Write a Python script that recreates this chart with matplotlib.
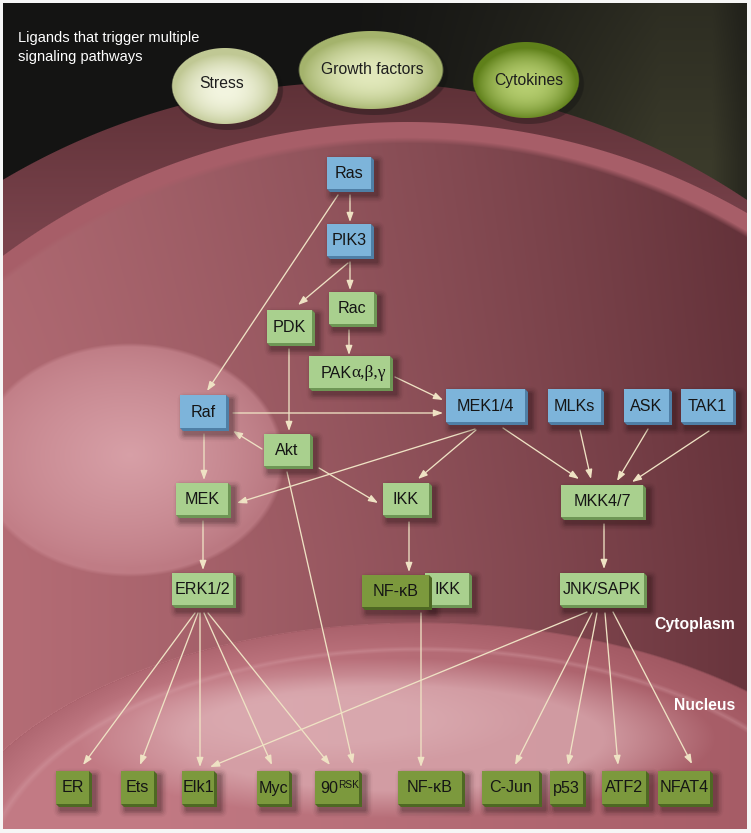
import numpy as np
import matplotlib
matplotlib.use("Agg")
import matplotlib.pyplot as plt
from matplotlib.patches import Polygon, FancyBboxPatch

# ------------------------------------------------------------------ data
TITLE_LINES = ["Ligands that trigger multiple", "signaling pathways"]
LIGANDS = ["Stress", "Growth factors", "Cytokines"]
COMPARTMENTS = ["Cytoplasm", "Nucleus"]

NODE_IDS = ["Ras", "PIK3", "Rac", "PDK", "PAK", "Raf", "MEK14", "MLKs", "ASK",
            "TAK1", "Akt", "MEK", "IKK", "MKK47", "ERK", "IKK2", "NFkB", "JNK",
            "ER", "Ets", "Elk1", "Myc", "RSK", "NFkBn", "CJun", "p53", "ATF2", "NFAT4"]
NODE_LABELS = ["Ras", "PIK3", "Rac", "PDK", "PAKα,β,γ", "Raf", "MEK1/4", "MLKs", "ASK",
               "TAK1", "Akt", "MEK", "IKK", "MKK4/7", "ERK1/2", "IKK", "NF-κB", "JNK/SAPK",
               "ER", "Ets", "Elk1", "Myc", "90RSK", "NF-κB", "C-Jun", "p53", "ATF2", "NFAT4"]
NODE_KIND = ["blue", "blue", "green", "green", "green", "blue", "blue", "blue", "blue",
             "blue", "green", "green", "green", "green", "green", "green", "dark", "green",
             "dark", "dark", "dark", "dark", "dark", "dark", "dark", "dark", "dark", "dark"]

EDGE_SRC = ["Ras", "Ras", "PIK3", "PIK3", "Rac", "PAK", "Raf", "PDK", "Akt", "Akt", "Akt",
            "MEK14", "MEK14", "MEK14", "MLKs", "ASK", "TAK1", "MKK47", "Raf", "MEK", "IKK",
            "NFkB", "ERK", "ERK", "ERK", "ERK", "ERK", "JNK", "JNK", "JNK", "JNK", "JNK"]
EDGE_DST = ["PIK3", "Raf", "Rac", "PDK", "PAK", "MEK14", "MEK14", "Akt", "Raf", "IKK", "RSK",
            "MEK", "IKK", "MKK47", "MKK47", "MKK47", "MKK47", "JNK", "MEK", "ERK", "NFkB",
            "NFkBn", "ER", "Ets", "Elk1", "Myc", "RSK", "Elk1", "CJun", "p53", "ATF2", "NFAT4"]

# ------------------------------------------------------------------ layout (pixels)
W, H = 751, 833
BOX = {
    "Ras": (327, 157, 374, 192), "PIK3": (327, 224, 374, 259), "Rac": (329, 292, 377, 327),
    "PDK": (267, 310, 315, 346), "PAK": (309, 356, 393, 391), "Raf": (180, 395, 229, 431),
    "MEK14": (446, 389, 528, 425), "MLKs": (548, 389, 604, 425), "ASK": (624, 389, 672, 425),
    "TAK1": (681, 389, 736, 425), "Akt": (264, 434, 313, 469), "MEK": (176, 483, 231, 518),
    "IKK": (383, 483, 432, 518), "MKK47": (561, 485, 646, 520), "ERK": (172, 573, 236, 608),
    "IKK2": (425, 573, 472, 608), "NFkB": (362, 575, 432, 610), "JNK": (560, 573, 647, 608),
    "ER": (56, 771, 92, 807), "Ets": (121, 771, 157, 807), "Elk1": (182, 771, 217, 807),
    "Myc": (257, 771, 292, 807), "RSK": (315, 771, 362, 807), "NFkBn": (398, 771, 465, 807),
    "CJun": (482, 771, 542, 807), "p53": (550, 771, 586, 807), "ATF2": (602, 771, 649, 807),
    "NFAT4": (658, 771, 713, 807),
}
ARROW_PTS = {
    ("Ras", "PIK3"): ((350, 195), (350, 222)), ("Ras", "Raf"): ((338, 195), (207, 391)),
    ("PIK3", "Rac"): ((350, 262), (350, 290)), ("PIK3", "PDK"): ((348, 263), (298, 305)),
    ("Rac", "PAK"): ((349, 330), (349, 355)), ("PAK", "MEK14"): ((395, 377), (443, 400)),
    ("Raf", "MEK14"): ((233, 413), (443, 413)), ("PDK", "Akt"): ((289, 349), (289, 431)),
    ("Akt", "Raf"): ((262, 449), (233, 431)), ("Akt", "IKK"): ((319, 468), (378, 503)),
    ("Akt", "RSK"): ((287, 472), (353, 764)), ("MEK14", "MEK"): ((475, 429), (237, 503)),
    ("MEK14", "IKK"): ((476, 430), (418, 479)), ("MEK14", "MKK47"): ((503, 428), (579, 479)),
    ("MLKs", "MKK47"): ((580, 430), (591, 479)), ("ASK", "MKK47"): ((648, 429), (617, 481)),
    ("TAK1", "MKK47"): ((709, 431), (632, 482)), ("MKK47", "JNK"): ((604, 524), (604, 569)),
    ("Raf", "MEK"): ((204, 434), (204, 480)), ("MEK", "ERK"): ((203, 521), (203, 570)),
    ("IKK", "NFkB"): ((409, 522), (409, 572)), ("NFkB", "NFkBn"): ((421, 613), (421, 767)),
    ("ERK", "ER"): ((195, 613), (83, 765)), ("ERK", "Ets"): ((198, 613), (140, 765)),
    ("ERK", "Elk1"): ((200, 613), (200, 767)), ("ERK", "Myc"): ((204, 613), (272, 765)),
    ("ERK", "RSK"): ((208, 613), (330, 765)), ("JNK", "Elk1"): ((587, 612), (210, 767)),
    ("JNK", "CJun"): ((592, 613), (515, 765)), ("JNK", "p53"): ((597, 613), (568, 765)),
    ("JNK", "ATF2"): ((605, 613), (618, 765)), ("JNK", "NFAT4"): ((613, 612), (692, 764)),
}
LIGAND_ELL = [(225, 86, 53, 38), (371, 70, 72, 39), (526, 80, 53, 38)]
LIGAND_COL = [("#f3f5e0", "#c0c894"), ("#e2e9bc", "#a4b36c"), ("#b6ce70", "#5f801a")]
FACE = {"blue": ("#7db4da", "#4f7fa6"), "green": ("#a9d08e", "#6e9655"),
        "dark": ("#7c993d", "#4e6823")}

# ------------------------------------------------------------------ background raster
yy, xx = np.mgrid[0:H, 0:W].astype(float)
xx += 0.5
yy += 0.5


def hexc(h):
    return np.array([int(h[i:i + 2], 16) / 255 for i in (1, 3, 5)])


def lerp(c1, c2, t):
    t = np.asarray(t)[..., None]
    return c1 * (1 - t) + c2 * t


def put(img, col, alpha):
    a = np.asarray(alpha)[..., None]
    return img * (1 - a) + col * a


def circ(cx, cy, R, soft=1.0):
    return np.clip((R - np.hypot(xx - cx, yy - cy)) / soft + 0.5, 0, 1)


def ellrho(cx, cy, a, b):
    return np.sqrt(((xx - cx) / a) ** 2 + ((yy - cy) / b) ** 2)


def ell(cx, cy, a, b, soft=1.0):
    d = (ellrho(cx, cy, a, b) - 1) * min(a, b)
    return np.clip(0.5 - d / soft, 0, 1)


# dark outside
s = np.clip((xx - 330) / 330, 0, 1) ** 1.4 * (1 - 0.45 * np.clip((xx - 712) / 30, 0, 1))
s = s * (0.65 + 0.35 * np.clip(yy / 160, 0, 1))
img = lerp(hexc("#141413"), hexc("#3a3a2a"), s)

# cell outer band
outer = lerp(hexc("#5e3137"), hexc("#7a434c"), np.clip((yy - 80) / 160, 0, 1))
img = put(img, outer, circ(359, 779, 697))
# light membrane band
img = put(img, hexc("#a75e68"), circ(407.5, 800.4, 678.4))
# cytoplasm
sx = np.clip(xx / 740, 0, 1) ** 1.25
cyto = lerp(hexc("#b46c75"), hexc("#69353d"), sx)
cyto = cyto * (0.94 + 0.06 * np.clip((yy - 140) / 420, 0, 1))[..., None]
img = put(img, cyto, circ(407.5, 800.4, 660, soft=6))
# left glow (distinct ellipse + inner radial light)
inside = circ(407.5, 800.4, 660)
img = put(img, hexc("#cf8e97"), 0.55 * ell(130, 460, 152, 115, soft=4) * inside)
rg = ellrho(130, 455, 150, 112)
img = put(img, hexc("#dca6ad"), 0.85 * np.clip(1 - rg, 0, 1) ** 0.8 * inside)

# nucleus
nrho = ellrho(420, 885, 485, 262)
ncol = lerp(hexc("#c27a84"), hexc("#a65c66"), np.clip((xx - 150) / 600, 0, 1))
img = put(img, ncol, ell(420, 885, 485, 262, soft=2))
rim = np.clip((nrho - 0.9) / 0.1, 0, 1) * (nrho <= 1)
img = put(img, hexc("#98505a"), 0.45 * rim)
img = put(img, hexc("#d7a1a8"), 0.35 * np.clip(1 - np.abs(nrho - 0.9) / 0.012, 0, 1))
hrho = ellrho(395, 738, 320, 80)
img = put(img, hexc("#dcacb2"), 0.75 * np.clip((1 - hrho) / 0.35, 0, 1))
img = put(img, hexc("#e6c0c4"), 0.3 * np.clip((1 - ellrho(330, 720, 200, 45)) / 0.5, 0, 1))

# ligand spheres
for (cx, cy, a, b), (c_in, c_out) in zip(LIGAND_ELL, LIGAND_COL):
    r = ellrho(cx, cy + 4, a * 0.95, b * 0.95)
    col = lerp(hexc(c_in), hexc(c_out), np.clip(r, 0, 1) ** 2.2)
    img = put(img, hexc("#101010"), 0.35 * ell(cx + 3, cy + 4, a + 2, b + 2) * (1 - ell(cx, cy, a, b)))
    img = put(img, col, ell(cx, cy, a, b))

# white frame
frame = (xx < 3) | (xx > 747) | (yy < 3) | (yy > 829)
img[frame] = hexc("#f6f6f6")

# ------------------------------------------------------------------ figure
fig = plt.figure(figsize=(W / 100, H / 100), dpi=100)
ax = fig.add_axes([0, 0, 1, 1])
ax.set_xlim(0, W)
ax.set_ylim(H, 0)
ax.axis("off")
ax.imshow(np.clip(img, 0, 1), extent=(0, W, H, 0), interpolation="bilinear", zorder=0)

SANS = ["Liberation Sans", "DejaVu Sans"]
SERIF = ["Liberation Serif", "DejaVu Serif"]
TXT = "#151515"
FS = 11.6

for i, line in enumerate(TITLE_LINES):
    ax.text(18, 38 + 19 * i, line, color="white", fontsize=10.5, family=SANS,
            ha="left", va="center", zorder=5)

LIG_TXT = [(222, 83), (372, 69), (529, 80)]
for name, (tx, ty) in zip(LIGANDS, LIG_TXT):
    ax.text(tx, ty, name, color="#1e1e1e", fontsize=11.3, family=SANS,
            ha="center", va="center", zorder=5)

ax.text(735, 624, COMPARTMENTS[0], color="white", fontsize=11.3, fontweight="bold",
        family=SANS, ha="right", va="center", zorder=5)
ax.text(735, 706, COMPARTMENTS[1], color="white", fontsize=11.3, fontweight="bold",
        family=SANS, ha="right", va="center", zorder=5)

# arrows
for s_, d_ in zip(EDGE_SRC, EDGE_DST):
    (x0, y0), (x1, y1) = ARROW_PTS[(s_, d_)]
    ax.annotate("", xy=(x1, y1), xytext=(x0, y0),
                arrowprops=dict(arrowstyle="-|>,head_length=0.55,head_width=0.2",
                                color="#efe2c4", lw=0.95, shrinkA=0, shrinkB=0,
                                mutation_scale=10),
                zorder=3)

# boxes
D = 3
for nid, label, kind in zip(NODE_IDS, NODE_LABELS, NODE_KIND):
    x0, y0, x1, y1 = BOX[nid]
    face, side = FACE[kind]
    for k, al in enumerate([0.14, 0.10, 0.07, 0.05, 0.03]):
        g = 1 + 3 * k
        ax.add_patch(FancyBboxPatch((x0 + 4 - g / 2, y0 + 4 - g / 2), x1 - x0 + g, y1 - y0 + g,
                                    boxstyle="round,pad=0,rounding_size=%g" % (2 + 1.5 * k),
                                    fc="#1a0a0c", ec="none", alpha=al, zorder=4))
    ax.add_patch(Polygon([(x0, y1 - D), (x1 - D, y1 - D), (x1 - D, y0), (x1, y0 + D),
                          (x1, y1), (x0 + D, y1)], closed=True, fc=side, ec="none", zorder=6))
    ax.add_patch(Polygon([(x0, y0), (x1 - D, y0), (x1 - D, y1 - D), (x0, y1 - D)],
                         closed=True, fc=face, ec="none", zorder=6))
    cx, cy = (x0 + x1 - D) / 2, (y0 + y1 - D) / 2
    if label == "PAKα,β,γ":
        ax.text(cx + 2, cy + 1, "PAK", fontsize=FS, family=SANS, color=TXT,
                ha="right", va="center", zorder=7)
        ax.text(cx + 2, cy + 1, "α,β,γ", fontsize=FS + 1, family=SERIF, color=TXT,
                ha="left", va="center", zorder=7)
    elif label == "90RSK":
        ax.text(cx + 1, cy + 1, "90", fontsize=FS, family=SANS, color=TXT,
                ha="right", va="center", zorder=7)
        ax.text(cx + 1, cy - 3, "RSK", fontsize=7.3, family=SANS, color=TXT,
                ha="left", va="center", zorder=7)
    else:
        ax.text(cx, cy + 0.5, label, fontsize=FS, family=SANS, color=TXT,
                ha="center", va="center", zorder=7)

fig.savefig("out.png", dpi=100)
